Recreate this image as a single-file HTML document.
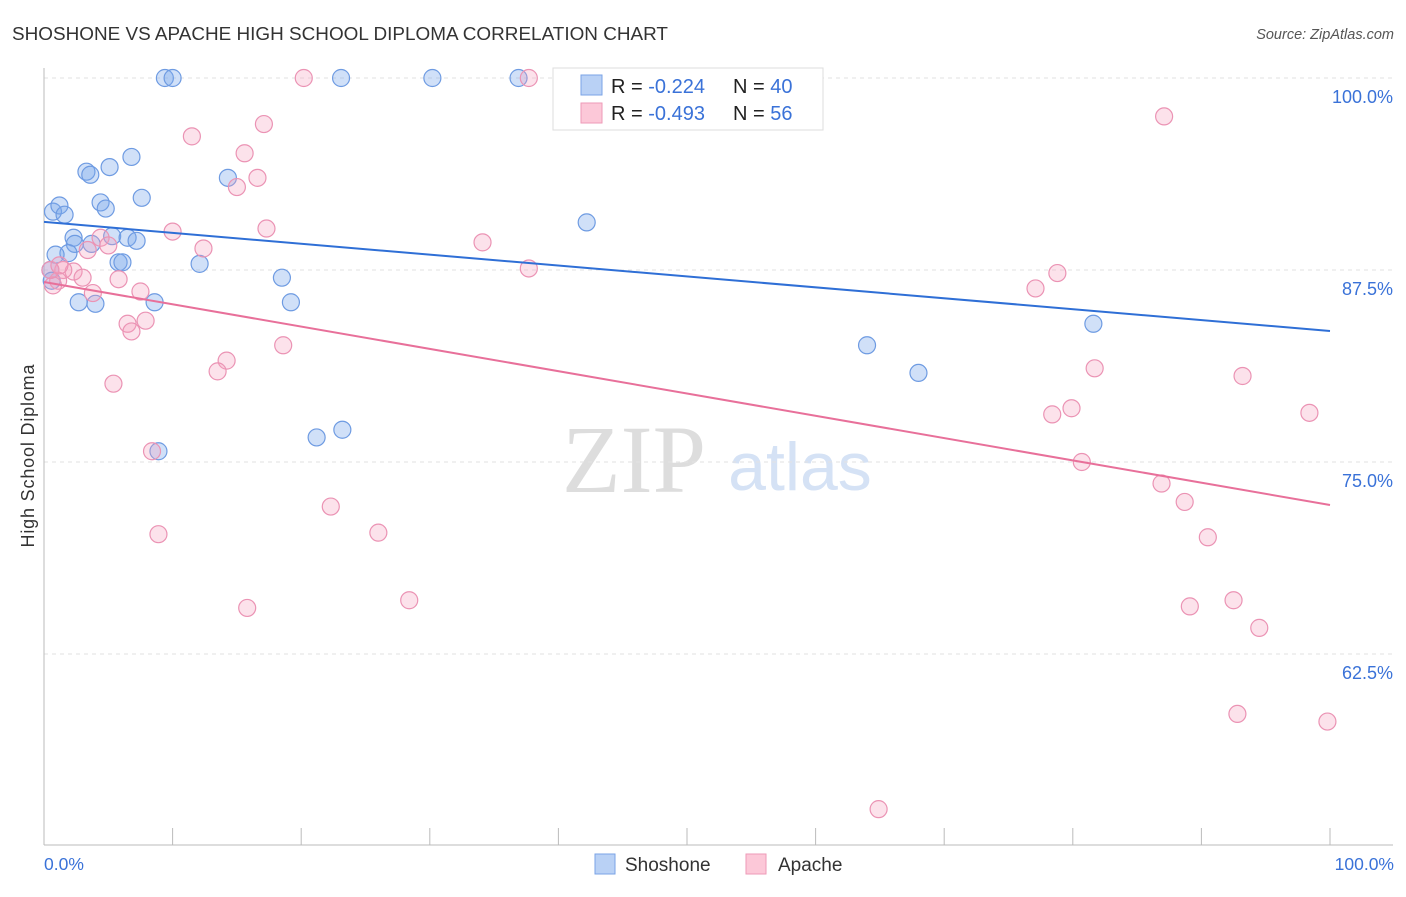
<!DOCTYPE html>
<html><head><meta charset="utf-8"><style>
body{margin:0;background:#fff;font-family:"Liberation Sans",sans-serif}
</style></head><body>
<svg id="chart" width="1406" height="892" xmlns="http://www.w3.org/2000/svg">
<text x="12" y="40" font-size="18" fill="#333" textLength="656" lengthAdjust="spacingAndGlyphs">SHOSHONE VS APACHE HIGH SCHOOL DIPLOMA CORRELATION CHART</text>
<text x="1394" y="39" font-size="14.5" fill="#555" font-style="italic" text-anchor="end">Source: ZipAtlas.com</text>
<text x="634" y="492" font-size="96" fill="#ddd" font-family="Liberation Serif,serif" text-anchor="middle">ZIP</text>
<text x="800" y="490" font-size="68" fill="#d5e2f5" text-anchor="middle">atlas</text>
<g id="grid"></g><g id="axes"></g><g id="marks"></g>
<text transform="translate(34,456) rotate(-90)" font-size="18" fill="#333" text-anchor="middle" textLength="183">High School Diploma</text>
<text x="44" y="870" font-size="17.5" fill="#3a72d8">0.0%</text>
<text x="1394" y="870" font-size="17.5" fill="#3a72d8" text-anchor="end">100.0%</text>
<g>
<rect x="553" y="68" width="270" height="62" fill="#fff" stroke="#ddd"/>
<rect x="581" y="75" width="21" height="20" fill="#b9d1f5" stroke="#7aa3e6"/>
<rect x="581" y="103" width="21" height="20" fill="#fcc8d8" stroke="#ee9ab7"/>
<text x="611" y="93" font-size="20" fill="#222">R = <tspan fill="#3a72d8">-0.224</tspan></text>
<text x="733" y="93" font-size="20" fill="#222">N = <tspan fill="#3a72d8">40</tspan></text>
<text x="611" y="120" font-size="20" fill="#222">R = <tspan fill="#3a72d8">-0.493</tspan></text>
<text x="733" y="120" font-size="20" fill="#222">N = <tspan fill="#3a72d8"> 56</tspan></text>
</g>
<g>
<rect x="595" y="854" width="20" height="20" fill="#b9d1f5" stroke="#7aa3e6"/>
<text x="625" y="871" font-size="19" fill="#333">Shoshone</text>
<rect x="746" y="854" width="20" height="20" fill="#fcc8d8" stroke="#ee9ab7"/>
<text x="778" y="871" font-size="19" fill="#333">Apache</text>
</g>
</svg>
<script>
const yTicks=[100,87.5,75,62.5];
const yTickLabels=["100.0%","87.5%","75.0%","62.5%"];
const shoX=[9.4,10.0,23.1,30.2,36.9,6.8,5.1,3.3,3.6,14.3,7.6,4.4,4.8,0.7,1.2,1.6,42.2,2.3,5.3,6.5,7.2,2.4,3.7,1.9,0.9,5.8,6.1,12.1,18.5,0.5,0.6,2.7,4.0,8.6,19.2,81.6,64.0,68.0,21.2,23.2,8.9];
const shoY=[100,100,100,100,100,94.86,94.2,93.9,93.7,93.5,92.2,91.9,91.5,91.3,91.7,91.1,90.6,89.6,89.7,89.6,89.4,89.2,89.2,88.6,88.5,88.0,88.0,87.9,87.0,87.5,86.8,85.4,85.3,85.4,85.4,84.0,82.6,80.8,76.6,77.1,75.7];
const apaX=[20.2,37.7,87.1,11.5,17.1,15.6,16.6,15.0,10.0,17.3,12.4,34.1,4.4,5.0,3.4,2.3,3.0,1.5,1.1,0.7,0.5,5.8,3.8,7.5,37.7,78.8,77.1,7.9,6.5,6.8,18.6,14.2,13.5,5.4,81.7,93.2,79.9,78.4,98.4,8.4,80.7,86.9,88.7,22.3,8.9,26.0,90.5,28.4,15.8,89.1,92.5,94.5,92.8,99.8,64.9,1.2];
const apaY=[100,100,97.5,96.2,97.0,95.1,93.5,92.9,90.0,90.2,88.9,89.3,89.6,89.1,88.8,87.4,87.0,87.5,86.8,86.5,87.5,86.9,86.0,86.1,87.6,87.3,86.3,84.2,84.0,83.5,82.6,81.6,80.9,80.1,81.1,80.6,78.5,78.1,78.2,75.7,75.0,73.6,72.4,72.1,70.3,70.4,70.1,66.0,65.5,65.6,66.0,64.2,58.6,58.1,52.4,87.8];
const shoTrend=[90.63,83.53];
const apaTrend=[86.72,72.2];
const NS="http://www.w3.org/2000/svg";
const sx=v=>44+v*12.86, sy=v=>78+(100-v)*15.36;
function mk(t,a,p){const e=document.createElementNS(NS,t);for(const k in a)e.setAttribute(k,a[k]);document.getElementById(p).appendChild(e);return e;}
yTicks.forEach((t,i)=>{
 const l=mk('line',{x1:44,x2:1393,y1:sy(t),y2:sy(t),stroke:'#e2e2e2','stroke-dasharray':'4,4'},'grid');
 
 
 const tx=mk('text',{x:1393,y:sy(t)+25,'font-size':18,fill:'#3a72d8','text-anchor':'end'},'grid');
 tx.textContent=yTickLabels[i];
 
 
});
const ax=mk('line',{x1:44,x2:44,y1:68,y2:845,stroke:'#bbb'},'axes');


const bx=mk('line',{x1:44,x2:1393,y1:845,y2:845,stroke:'#bbb'},'axes');


for(let i=1;i<=10;i++){const t=mk('line',{x1:sx(i*10),x2:sx(i*10),y1:828,y2:845,stroke:'#bbb'},'axes');
 
 }
function pts(X,Y,fill,stroke,name){X.forEach((x,i)=>{const c=mk('circle',{cx:sx(x),cy:sy(Y[i]),r:8.5,fill:fill,stroke:stroke,'stroke-width':1.2},'marks');
 
 });}
pts(shoX,shoY,'rgba(120,165,235,0.35)','#6e9be2','shoshone-point');
pts(apaX,apaY,'rgba(245,160,190,0.3)','#eb93b4','apache-point');
const t1=mk('line',{x1:sx(0),y1:sy(shoTrend[0]),x2:sx(100),y2:sy(shoTrend[1]),stroke:'#2f6fd6','stroke-width':2},'marks');


const t2=mk('line',{x1:sx(0),y1:sy(apaTrend[0]),x2:sx(100),y2:sy(apaTrend[1]),stroke:'#e8709a','stroke-width':2},'marks');


</script>
</body></html>
